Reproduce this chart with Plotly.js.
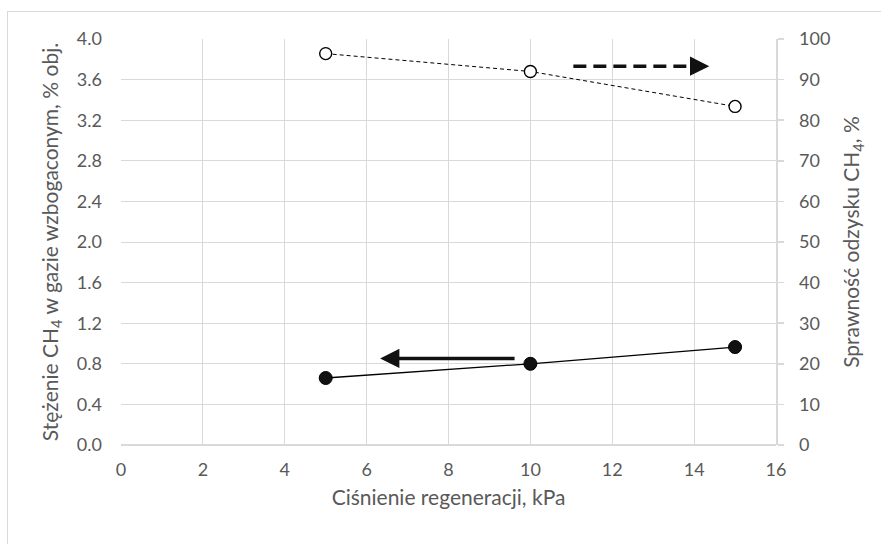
<!DOCTYPE html>
<html>
<head>
<meta charset="utf-8">
<script src="https://cdn.plot.ly/plotly-3.0.1.min.js"></script>
<style>
html,body{margin:0;padding:0;background:#fff;}
#wrap{position:relative;width:881px;height:544px;overflow:hidden;}
#chart{position:absolute;left:0;top:0;width:881px;height:544px;}
#frame{position:absolute;left:7px;top:11px;width:900px;height:600px;border:1.5px solid #d9d9d9;pointer-events:none;}
</style>
</head>
<body>
<div id="wrap"><div id="chart"></div><div id="frame"></div></div>
<script>
// Data
const pressure = [5, 10, 15];                 // kPa
const ch4Concentration = [0.66, 0.80, 0.965]; // % obj. (left axis)
const ch4Recovery = [96.4, 92.0, 83.4];       // % (right axis)

// Arrow indicators (data coordinates)
const leftArrow = {tailX: 9.65, headX: 6.33, y: 0.853};
const rightArrow = {tailX: 11.05, headX: 14.37, y: 93.3};

const xTicks = [0, 2, 4, 6, 8, 10, 12, 14, 16];
const yLeftTicks = [0, 0.4, 0.8, 1.2, 1.6, 2.0, 2.4, 2.8, 3.2, 3.6, 4.0];
const yRightTicks = [0, 10, 20, 30, 40, 50, 60, 70, 80, 90, 100];

const FONT = 'Lato, "Open Sans", sans-serif';
const TXT = '#595959';
const GRID = '#d9d9d9';
const TICK_SIZE = 18;
const TITLE_SIZE = 21;

const traces = [
  {
    x: pressure, y: ch4Concentration, yaxis: 'y', type: 'scatter', mode: 'lines+markers',
    line: {color: '#000', width: 1.3},
    marker: {symbol: 'circle', size: 13, color: '#111', line: {color: '#000', width: 1}},
    showlegend: false, hoverinfo: 'x+y'
  },
  {
    x: pressure, y: ch4Recovery, yaxis: 'y2', type: 'scatter', mode: 'lines+markers',
    line: {color: '#000', width: 1, dash: '4px,3px'},
    marker: {symbol: 'circle', size: 12, color: '#fff', line: {color: '#000', width: 1.4}},
    showlegend: false, hoverinfo: 'x+y'
  }
];

const layout = {
  width: 881, height: 544,
  margin: {l: 121, r: 105, t: 39, b: 99},
  paper_bgcolor: 'rgba(0,0,0,0)', plot_bgcolor: '#fff',
  font: {family: FONT, color: TXT, size: TICK_SIZE},
  xaxis: {
    range: [0, 16], tickvals: xTicks, ticktext: xTicks.map(String),
    showgrid: true, gridcolor: GRID, gridwidth: 1, zeroline: false,
    showline: false, ticks: '', ticklen: 0, ticklabelstandoff: 12,
    tickfont: {family: FONT, color: TXT, size: TICK_SIZE},
    title: {text: 'Ciśnienie regeneracji, kPa', font: {family: FONT, color: TXT, size: TITLE_SIZE}, standoff: 11},
    fixedrange: true
  },
  yaxis: {
    range: [0, 4.0], tickvals: yLeftTicks, ticktext: yLeftTicks.map(v => v.toFixed(1)),
    showgrid: true, gridcolor: GRID, gridwidth: 1, zeroline: true, zerolinecolor: GRID, zerolinewidth: 1.5,
    showline: false, ticks: '', ticklen: 0, ticklabelstandoff: 18,
    tickfont: {family: FONT, color: TXT, size: TICK_SIZE},
    title: {text: 'Stężenie CH<sub>4</sub> w gazie wzbogaconym, % obj.', font: {family: FONT, color: TXT, size: TITLE_SIZE}, standoff: 12},
    fixedrange: true
  },
  yaxis2: {
    overlaying: 'y', side: 'right', anchor: 'x',
    range: [0, 100], tickvals: yRightTicks, ticktext: yRightTicks.map(String),
    showgrid: false, zeroline: false,
    showline: true, linecolor: GRID, linewidth: 1.5,
    ticks: 'outside', ticklen: 6, tickcolor: GRID, tickwidth: 1.5, ticklabelstandoff: 12,
    tickfont: {family: FONT, color: TXT, size: TICK_SIZE},
    title: {text: 'Sprawność odzysku CH<sub>4</sub>, %', font: {family: FONT, color: TXT, size: TITLE_SIZE}, standoff: 15},
    fixedrange: true
  },
  shapes: [
    {type: 'line', xref: 'x', yref: 'y2', x0: rightArrow.tailX, x1: rightArrow.headX - 0.45,
     y0: rightArrow.y, y1: rightArrow.y, line: {color: '#111', width: 3.5, dash: '13px,7px'}}
  ],
  annotations: [
    {xref: 'x', yref: 'y', axref: 'x', ayref: 'y',
     x: leftArrow.headX, y: leftArrow.y, ax: leftArrow.tailX, ay: leftArrow.y,
     text: '', showarrow: true, arrowhead: 2, arrowsize: 1.1, arrowwidth: 3.5, arrowcolor: '#111', standoff: 0},
    {xref: 'x', yref: 'y2', axref: 'x', ayref: 'y2',
     x: rightArrow.headX, y: rightArrow.y, ax: rightArrow.headX - 0.5, ay: rightArrow.y,
     text: '', showarrow: true, arrowhead: 2, arrowsize: 1.1, arrowwidth: 3.5, arrowcolor: '#111', standoff: 0}
  ]
};

Plotly.newPlot('chart', traces, layout, {staticPlot: true, displayModeBar: false});
</script>
</body>
</html>
